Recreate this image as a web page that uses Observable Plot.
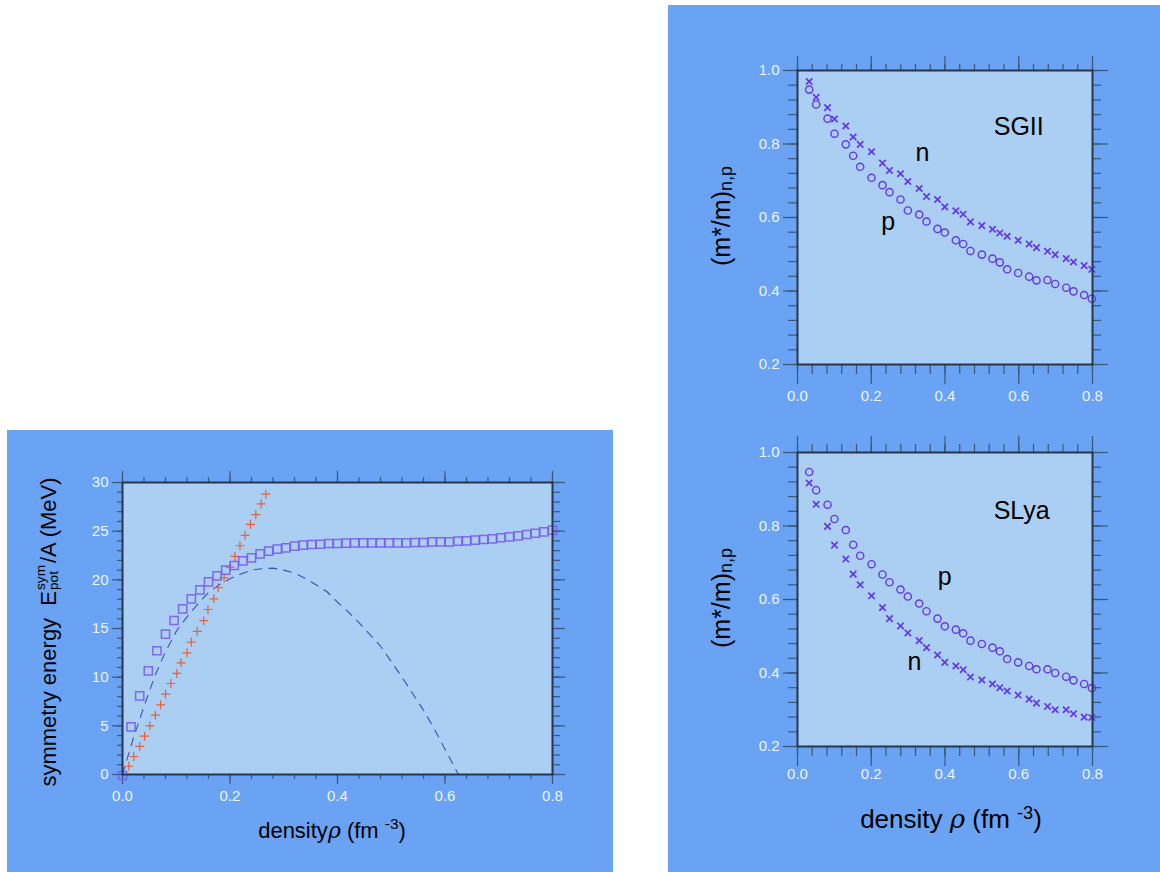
<!DOCTYPE html>
<html>
<head>
<meta charset="utf-8">
<script src="https://cdn.jsdelivr.net/npm/d3@7"></script>
<script src="https://cdn.jsdelivr.net/npm/@observablehq/plot@0.6"></script>
<style>
  html, body { margin: 0; padding: 0; background: #ffffff; }
  #page { position: relative; width: 1160px; height: 872px; overflow: hidden; background: #ffffff; font-family: "Liberation Sans", Arial, sans-serif; }
  .panel { position: absolute; background: #6aa3f4; }
  .plotbox { position: absolute; }
  .title { position: absolute; color: #000; white-space: nowrap; line-height: 1; }
  .rot { transform: translate(-50%, -50%) rotate(-90deg); }
  .ctr { transform: translate(-50%, -50%); }
  .stack { display: inline-flex; flex-direction: column; vertical-align: middle; font-size: 0.62em; line-height: 0.95; margin: 0 2px 0 1px; position: relative; top: -0.15em; }
</style>
</head>
<body>
<div id="page">
  <div class="panel" style="left:7px; top:430px; width:606px; height:442px;"></div>
  <div class="panel" style="left:668px; top:5px; width:492px; height:867px;"></div>
  <div id="left" class="plotbox" style="left:7px; top:430px;"></div>
  <div id="rtop" class="plotbox" style="left:668px; top:5px;"></div>
  <div id="rbot" class="plotbox" style="left:668px; top:425px;"></div>

  <div class="title rot" style="left:50px; top:632px; font-size:22px;">symmetry energy&nbsp; E<span class="stack"><span>sym</span><span>pot</span></span>/A (MeV)</div>
  <div class="title ctr" style="left:332px; top:829px; font-size:22px;">density<i style="font-family:'DejaVu Serif',serif;">ρ</i> (fm <sup style="font-size:0.7em;">-3</sup>)</div>

  <div class="title rot" style="left:721px; top:216px; font-size:25px;">(m*/m)<span style="font-size:0.72em; position:relative; top:0.12em;">n,p</span></div>
  <div class="title rot" style="left:721px; top:598px; font-size:25px;">(m*/m)<span style="font-size:0.72em; position:relative; top:0.12em;">n,p</span></div>
  <div class="title ctr" style="left:951px; top:818px; font-size:26px;">density <i style="font-family:'DejaVu Serif',serif;">ρ</i> (fm <sup style="font-size:0.7em;">-3</sup>)</div>
</div>
<script>
// ---------- Left panel: symmetry energy ----------
const symRho = [0, .016, .032, .048, .064, .08, .096, .112, .128, .144, .16, .176, .192, .208, .224, .24, .256, .272, .288, .304, .32, .336, .352, .368, .384, .4, .416, .432, .448, .464, .48, .496, .512, .528, .544, .56, .576, .592, .608, .624, .64, .656, .672, .688, .704, .72, .736, .752, .768, .784, .8];
const symSquares = [-0.1, 4.9, 8.08, 10.65, 12.71, 14.42, 15.82, 17.02, 18.05, 18.97, 19.79, 20.41, 20.99, 21.47, 21.95, 22.26, 22.67, 22.95, 23.15, 23.29, 23.46, 23.56, 23.63, 23.66, 23.73, 23.73, 23.77, 23.8, 23.8, 23.8, 23.8, 23.8, 23.8, 23.8, 23.84, 23.84, 23.9, 23.9, 23.9, 23.97, 24.01, 24.08, 24.14, 24.21, 24.32, 24.42, 24.52, 24.66, 24.79, 24.93, 25.1];

const plusRho = [0.0117, 0.021, 0.032, 0.041, 0.051, 0.061, 0.071, 0.080, 0.090, 0.101, 0.109, 0.12, 0.128, 0.139, 0.151, 0.159, 0.170, 0.178, 0.189, 0.2, 0.209, 0.2185, 0.228, 0.238, 0.248, 0.258, 0.2667];
const plusEsym = [0.85, 1.85, 2.88, 3.94, 5.0, 6.1, 7.16, 8.25, 9.35, 10.38, 11.47, 12.5, 13.6, 14.7, 15.8, 16.95, 18.05, 19.2, 20.2, 21.3, 22.4, 23.5, 24.56, 25.7, 26.7, 27.8, 28.8];

const dashRho = [0, 0.02, 0.04, 0.06, 0.08, 0.10, 0.12, 0.14, 0.16, 0.18, 0.20, 0.22, 0.24, 0.26, 0.28, 0.30, 0.32, 0.34, 0.36, 0.38, 0.40, 0.42, 0.44, 0.46, 0.48, 0.50, 0.52, 0.54, 0.56, 0.58, 0.60, 0.625];
const dashEsym = [0, 3.7, 7.0, 10.1, 12.6, 14.7, 16.2, 17.5, 18.7, 19.5, 20.1, 20.6, 21.0, 21.15, 21.2, 21.0, 20.7, 20.15, 19.5, 18.8, 17.7, 16.7, 15.6, 14.4, 13.2, 11.6, 10.0, 8.3, 6.6, 4.7, 2.6, 0];

const leftXTicks = [0, 0.2, 0.4, 0.6, 0.8];
const leftYTicks = [0, 5, 10, 15, 20, 25, 30];

// ---------- Right panels: effective masses ----------
const meffRho = [0.0316, 0.0506, 0.0814, 0.1003, 0.131, 0.151, 0.170, 0.2007, 0.2305, 0.2495, 0.2793, 0.2992, 0.330, 0.3498, 0.3797, 0.3995, 0.4294, 0.4493, 0.469, 0.4999, 0.5288, 0.5487, 0.5686, 0.5984, 0.6282, 0.6481, 0.678, 0.6988, 0.7286, 0.7485, 0.7774, 0.7982];
const sgiiN = [0.970, 0.927, 0.899, 0.868, 0.849, 0.819, 0.799, 0.779, 0.748, 0.728, 0.719, 0.698, 0.679, 0.657, 0.649, 0.629, 0.618, 0.609, 0.588, 0.578, 0.568, 0.558, 0.549, 0.538, 0.528, 0.518, 0.508, 0.499, 0.488, 0.479, 0.469, 0.459];
const sgiiP = [0.948, 0.9075, 0.869, 0.828, 0.799, 0.768, 0.738, 0.708, 0.688, 0.669, 0.649, 0.619, 0.608, 0.589, 0.569, 0.559, 0.538, 0.528, 0.509, 0.499, 0.488, 0.478, 0.459, 0.449, 0.439, 0.429, 0.430, 0.419, 0.409, 0.399, 0.389, 0.379];
const slyaP = [0.947, 0.8975, 0.858, 0.819, 0.789, 0.749, 0.719, 0.696, 0.668, 0.647, 0.627, 0.608, 0.589, 0.568, 0.548, 0.527, 0.518, 0.508, 0.488, 0.479, 0.469, 0.459, 0.438, 0.429, 0.419, 0.410, 0.410, 0.400, 0.390, 0.380, 0.370, 0.359];
const slyaN = [0.917, 0.859, 0.799, 0.748, 0.710, 0.669, 0.640, 0.610, 0.578, 0.548, 0.528, 0.509, 0.488, 0.469, 0.449, 0.429, 0.419, 0.409, 0.389, 0.381, 0.370, 0.360, 0.351, 0.340, 0.329, 0.318, 0.309, 0.300, 0.300, 0.289, 0.280, 0.279];

const rightXTicks = [0, 0.2, 0.4, 0.6, 0.8];
const rightYTicks = [0.2, 0.4, 0.6, 0.8, 1.0];

const sgiiLabels = ["SGII", "n", "p"];
const sgiiLabelX = [0.600, 0.339, 0.246];
const sgiiLabelY = [0.846, 0.776, 0.588];
const slyaLabels = ["SLya", "p", "n"];
const slyaLabelX = [0.608, 0.399, 0.317];
const slyaLabelY = [0.842, 0.660, 0.429];

// ---------- styling ----------
const innerFill = "#abcff2";
const frameStroke = "#27364a";
const tickStroke = "#3a5878";
const labelFill = "#eef4ff";
const fmt1 = d => d.toFixed(1);
const blank = () => "";

function sideTicks(axis, anchor, values, size, text, pad, fmt) {
  const f = axis === "x" ? Plot.axisX : Plot.axisY;
  return f(values, {
    anchor, label: null, tickSize: text ? 0 : size, tickPadding: pad ?? 3,
    stroke: tickStroke, fill: labelFill, strokeWidth: 1.2,
    tickFormat: text ? fmt : blank
  });
}

function frameTicks(xMaj, xMin, yMaj, yMin, s, fmtX, fmtY) {
  return [
    sideTicks("x", "top", xMin, s.topMin),
    sideTicks("x", "top", xMaj, s.topMaj),
    sideTicks("x", "bottom", xMin, s.botMin),
    sideTicks("x", "bottom", xMaj, s.botMaj),
    sideTicks("y", "left", yMin, s.leftMin),
    sideTicks("y", "left", yMaj, s.leftMaj),
    sideTicks("y", "right", yMin, s.rightMin),
    sideTicks("y", "right", yMaj, s.rightMaj),
    sideTicks("x", "bottom", xMaj, 0, true, s.xPad, fmtX),
    sideTicks("y", "left", yMaj, 0, true, s.yPad, fmtY)
  ];
}

// Left plot
const symSq = symRho.map((r, i) => ({r, e: symSquares[i]}));
const symPlus = plusRho.map((r, i) => ({r, e: plusEsym[i]}));
const symDash = dashRho.map((r, i) => ({r, e: dashEsym[i]}));
const minorX = d3.range(0, 21).map(i => i * 0.04);
const minorYLeft = d3.range(0, 31);
const minorYRight = d3.range(0, 21).map(i => 0.2 + i * 0.04);

const left = Plot.plot({
  width: 606, height: 442,
  marginLeft: 115, marginRight: 61, marginTop: 52, marginBottom: 98,
  style: {background: "transparent", overflow: "visible", fontSize: "15px", fontFamily: "Liberation Sans, Arial, sans-serif"},
  x: {domain: [0, 0.8]},
  y: {domain: [0, 30]},
  marks: [
    Plot.frame({fill: innerFill, stroke: null}),
    ...frameTicks(leftXTicks, minorX, leftYTicks, minorYLeft,
      {topMin: 6, topMaj: 12, botMin: 5, botMaj: 10, leftMin: 5, leftMaj: 10, rightMin: 7, rightMaj: 12, xPad: 16, yPad: 14},
      fmt1, d => String(d)),
    Plot.line(symDash, {x: "r", y: "e", stroke: "#3a52b4", strokeWidth: 1.1, strokeDasharray: "8,7"}),
    Plot.dot(symPlus, {x: "r", y: "e", symbol: "plus", r: 3, stroke: "#ea5f3c", strokeWidth: 1.2, fill: "none"}),
    Plot.dot(symSq, {x: "r", y: "e", symbol: "square", r: 4.6, stroke: "#7a5cf0", strokeWidth: 1.5, fill: "none", strokeOpacity: 0.9}),
    Plot.frame({stroke: frameStroke, strokeWidth: 2})
  ]
});
document.getElementById("left").appendChild(left);

function meffPlot(nVals, pVals, labels, lx, ly, m) {
  const nd = meffRho.map((r, i) => ({r, v: nVals[i]}));
  const pd = meffRho.map((r, i) => ({r, v: pVals[i]}));
  const ld = labels.map((t, i) => ({t, x: lx[i], y: ly[i]}));
  return Plot.plot({
    width: 492, height: m.height,
    marginLeft: 129, marginRight: 68, marginTop: m.top, marginBottom: m.bottom,
    style: {background: "transparent", overflow: "visible", fontSize: "15px", fontFamily: "Liberation Sans, Arial, sans-serif"},
    x: {domain: [0, 0.8]},
    y: {domain: [0.2, 1.0]},
    marks: [
      Plot.frame({fill: innerFill, stroke: null}),
      ...frameTicks(rightXTicks, minorX, rightYTicks, minorYRight,
        {topMin: m.topMin, topMaj: m.topMaj, botMin: 10, botMaj: 20, leftMin: 9, leftMaj: 14, rightMin: 8, rightMaj: 15, xPad: m.xPad, yPad: 18},
        fmt1, fmt1),
      Plot.dot(nd, {x: "r", y: "v", symbol: "times", r: 3, stroke: "#6338e6", strokeWidth: 1.7, fill: "none"}),
      Plot.dot(pd, {x: "r", y: "v", symbol: "circle", r: 3.6, stroke: "#6338e6", strokeWidth: 1.4, fill: "none"}),
      Plot.text(ld, {x: "x", y: "y", text: "t", fontSize: 25, fill: "#000"}),
      Plot.frame({stroke: frameStroke, strokeWidth: 2})
    ]
  });
}

document.getElementById("rtop").appendChild(
  meffPlot(sgiiN, sgiiP, sgiiLabels, sgiiLabelX, sgiiLabelY,
    {height: 420, top: 65, bottom: 61, topMin: 7, topMaj: 15, xPad: 26}));
document.getElementById("rbot").appendChild(
  meffPlot(slyaN, slyaP, slyaLabels, slyaLabelX, slyaLabelY,
    {height: 447, top: 27, bottom: 126, topMin: 9, topMaj: 17, xPad: 22}));
</script>
</body>
</html>
